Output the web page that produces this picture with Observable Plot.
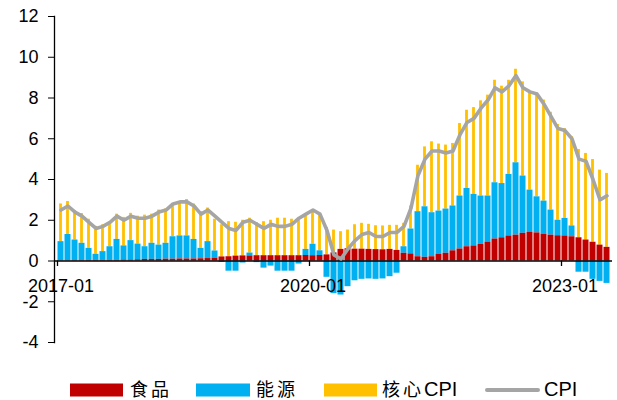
<!DOCTYPE html>
<html><head><meta charset="utf-8">
<script src="https://cdn.jsdelivr.net/npm/d3@7"></script>
<script src="https://cdn.jsdelivr.net/npm/@observablehq/plot@0.6"></script>
<style>
body{margin:0;background:#fff;}
#wrap{width:617px;height:400px;font-family:"Liberation Sans",Arial,sans-serif;color:#000;}
#wrap svg{display:block;}
</style></head><body><div id="wrap"></div>
<script>
// categories: monthly 2017-01 .. 2023-07
const months = d3.utcMonths(new Date(Date.UTC(2017,0,1)), new Date(Date.UTC(2023,7,1))).map(d3.utcFormat("%Y-%m"));
const tickLabels = ["2017-01","2020-01","2023-01"];
const yTicks = [-4,-2,0,2,4,6,8,10,12];

// contributions (percentage points)
const food = [
 0.01,0.01,0.02,0.02,0.03,0.03,0.04,0.04,0.04,0.05,0.05,0.06,
 0.08,0.08,0.08,0.09,0.09,0.10,0.10,0.10,0.11,0.12,0.14,0.20,
 0.21,0.24,0.25,0.25,0.26,0.26,0.26,0.26,0.26,0.26,0.26,0.27,
 0.26,0.27,0.30,0.40,0.57,0.60,0.58,0.58,0.57,0.56,0.55,0.57,
 0.52,0.38,0.35,0.21,0.18,0.21,0.34,0.38,0.50,0.59,0.70,0.74,
 0.82,0.93,1.08,1.14,1.23,1.27,1.36,1.40,1.38,1.32,1.27,1.24,
 1.23,1.19,1.14,1.03,0.92,0.78,0.67];
const energy = [
 0.94,1.29,1.01,0.85,0.59,0.30,0.42,0.66,1.02,0.69,0.95,0.77,
 0.62,0.79,0.70,0.78,1.10,1.13,1.13,0.96,0.51,0.83,0.35,-0.07,
 -0.50,-0.50,-0.10,0.14,-0.08,-0.35,-0.25,-0.50,-0.50,-0.50,-0.15,0.30,
 0.56,0.23,-0.80,-1.60,-1.67,-1.26,-0.97,-0.90,-0.88,-0.90,-0.88,-0.77,
 -0.60,0.32,1.22,2.21,2.48,2.16,2.11,2.17,2.20,2.60,2.86,2.53,
 2.37,2.26,2.76,2.66,3.02,3.55,2.81,2.08,1.77,1.62,1.23,0.76,
 0.86,0.53,-0.55,-0.55,-0.90,-1.00,-1.10];
const core = [
 1.85,1.62,1.45,1.46,1.43,1.37,1.32,1.20,1.24,1.40,1.34,1.37,
 1.55,1.43,1.72,1.68,1.53,1.67,1.79,1.74,1.80,1.65,1.56,1.58,
 1.72,1.66,1.75,1.71,1.62,1.67,1.74,1.84,1.84,1.79,1.84,1.63,
 1.58,1.75,1.35,1.12,0.87,0.92,1.20,1.27,1.23,1.17,1.17,1.18,
 1.23,1.15,1.13,2.28,2.94,3.48,3.29,3.14,3.07,3.56,3.84,4.26,
 4.67,4.95,5.03,4.78,4.62,4.59,4.62,4.82,5.10,4.96,4.80,4.70,
 4.41,4.38,4.33,4.25,4.06,3.68,3.63];
const cpi = [
 2.5,2.7,2.4,2.2,1.9,1.6,1.7,1.9,2.2,2.0,2.2,2.1,
 2.1,2.2,2.4,2.5,2.8,2.9,2.9,2.7,2.3,2.5,2.2,1.9,
 1.6,1.5,1.9,2.0,1.8,1.6,1.8,1.7,1.7,1.8,2.1,2.3,
 2.5,2.3,1.5,0.3,0.1,0.6,1.0,1.3,1.4,1.2,1.2,1.4,
 1.4,1.7,2.6,4.2,5.0,5.4,5.4,5.3,5.4,6.2,6.8,7.0,
 7.5,7.9,8.5,8.3,8.6,9.1,8.5,8.3,8.2,7.7,7.1,6.5,
 6.4,6.0,5.0,4.9,4.0,3.0,3.2];

const colors = {food:"#C00000", energy:"#00B0F0", core:"#FFC000", cpi:"#A5A5A5"};

// stacked table (positive stack / negative stack)
const rows = months.map((m,i) => {
  const f = food[i], e = energy[i], c = core[i];
  const pos0 = Math.max(f,0);
  const neg0 = Math.min(f,0);
  const e1 = e >= 0 ? pos0 : neg0, e2 = e >= 0 ? pos0 + e : neg0 + e;
  const posTop = pos0 + Math.max(e,0);
  return {m, f1:0, f2:f, e1, e2, c1:posTop, c2:posTop + c, cpi:cpi[i]};
});

const plot = Plot.plot({
  width: 617, height: 360,
  marginTop: 16, marginBottom: 18, marginLeft: 54, marginRight: 5,
  style: {fontFamily: "Liberation Sans, Arial, sans-serif", fontSize: "18px", color: "#000", background: "#fff"},
  x: {type: "band", domain: months, padding: 0, axis: null},
  y: {domain: [-4, 12], axis: null},
  marks: [
    Plot.barY(rows, {x: "m", y1: "c1", y2: "c2", fill: colors.core, insetLeft: 2.1, insetRight: 2.1}),
    Plot.barY(rows, {x: "m", y1: "e1", y2: "e2", fill: colors.energy, insetLeft: 0.5, insetRight: 0.5}),
    Plot.barY(rows, {x: "m", y1: "f1", y2: "f2", fill: colors.food, insetLeft: 0.5, insetRight: 0.5}),
    Plot.ruleY([0], {stroke: "#000", strokeWidth: 1.5}),
    Plot.ruleX(tickLabels, {x: d => d, y1: 0, y2: -0.27, dx: -3.5, stroke: "#000", strokeWidth: 1.3}),
    Plot.lineY(rows, {x: "m", y: "cpi", stroke: colors.cpi, strokeWidth: 3.6, strokeLinejoin: "round", strokeLinecap: "round"}),
    Plot.axisY({ticks: yTicks, tickSize: 6, tickPadding: 10, stroke: "#000", fill: "#000", fontSize: 18, label: null, tickFormat: d => String(d)}),
    Plot.frame({anchor: "left", stroke: "#000", strokeWidth: 1.3}),
    Plot.text(tickLabels, {x: d => d, y: 0, dy: 25, text: d => d, fontSize: 18, fill: "#000", letterSpacing: 1.3})
  ]
});
const wrap = document.getElementById("wrap");
wrap.appendChild(plot);

// legend (SVG strip below the chart)
const legendItems = [
  {type:"bar", color: colors.food, x: 70, w: 53, cjk: "食品", lat: "", lx: 130},
  {type:"bar", color: colors.energy, x: 196, w: 54, cjk: "能源", lat: "", lx: 256},
  {type:"bar", color: colors.core, x: 324, w: 53, cjk: "核心", lat: "CPI", lx: 382},
  {type:"line", color: colors.cpi, x: 485, w: 55, cjk: "", lat: "CPI", lx: 544}
];
const lg = d3.create("svg").attr("width", 617).attr("height", 40).attr("viewBox", "0 0 617 40");
const cy = 30;
legendItems.forEach(d => {
  if (d.type === "line") {
    lg.append("line").attr("x1", d.x + 2).attr("x2", d.x + d.w - 2).attr("y1", cy).attr("y2", cy)
      .attr("stroke", d.color).attr("stroke-width", 4).attr("stroke-linecap", "round");
  } else {
    lg.append("rect").attr("x", d.x).attr("y", cy - 6.5).attr("width", d.w).attr("height", 13).attr("fill", d.color);
  }
  const t = lg.append("text").attr("x", d.lx).attr("y", cy).attr("dy", "0.36em").attr("fill", "#000");
  if (d.cjk) t.append("tspan").attr("font-family", "Noto Sans CJK SC, sans-serif").attr("font-size", 18).attr("letter-spacing", 3).text(d.cjk);
  if (d.lat) t.append("tspan").attr("font-family", "Liberation Sans, Arial, sans-serif").attr("font-size", 20).attr("letter-spacing", 0).text(d.lat);
});
wrap.appendChild(lg.node());
</script></body></html>
